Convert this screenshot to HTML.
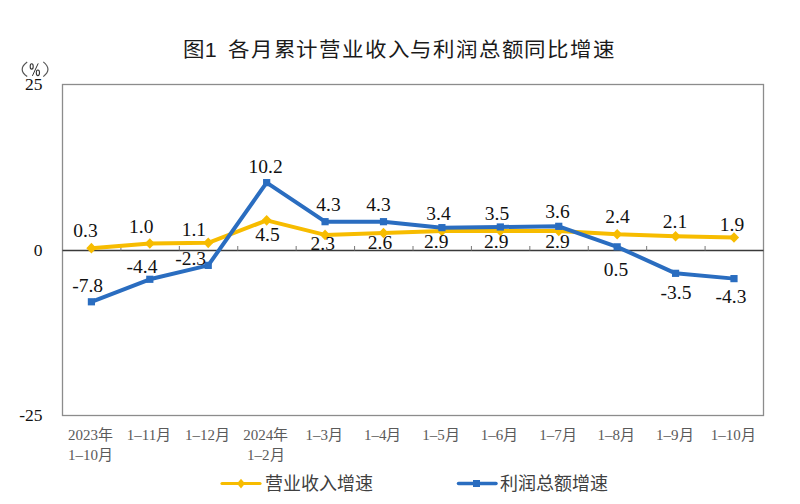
<!DOCTYPE html>
<html lang="zh-CN"><head><meta charset="utf-8"><style>
html,body{margin:0;padding:0;background:#fff;width:800px;height:504px;overflow:hidden}
svg{display:block}
.d{font-family:"Liberation Serif",serif;font-size:19.5px;fill:#111;text-anchor:middle}
.ya{font-family:"Liberation Serif",serif;font-size:17.5px;fill:#111;text-anchor:end}
.pc{font-family:"Liberation Serif",serif;font-size:15px;fill:#333;text-anchor:middle}
.xa{font-family:"Liberation Serif",serif;font-size:15px;fill:#5a5a5a;text-anchor:middle}
.ti{font-family:"Liberation Sans",sans-serif;font-size:21.5px;fill:#1a1a1a}
.lg{font-family:"Liberation Serif",serif;font-size:18px;fill:#404040}
</style></head><body>
<svg width="800" height="504" viewBox="0 0 800 504">
<rect x="62.5" y="84.5" width="701.0" height="331.0" fill="none" stroke="#8c8c8c" stroke-width="1.3"/>
<line x1="62.5" y1="250.5" x2="763.5" y2="250.5" stroke="#3a3a3a" stroke-width="1.5"/>
<line x1="120.92" y1="246.0" x2="120.92" y2="250.5" stroke="#777" stroke-width="1"/>
<line x1="179.33" y1="246.0" x2="179.33" y2="250.5" stroke="#777" stroke-width="1"/>
<line x1="237.75" y1="246.0" x2="237.75" y2="250.5" stroke="#777" stroke-width="1"/>
<line x1="296.17" y1="246.0" x2="296.17" y2="250.5" stroke="#777" stroke-width="1"/>
<line x1="354.58" y1="246.0" x2="354.58" y2="250.5" stroke="#777" stroke-width="1"/>
<line x1="413.00" y1="246.0" x2="413.00" y2="250.5" stroke="#777" stroke-width="1"/>
<line x1="471.42" y1="246.0" x2="471.42" y2="250.5" stroke="#777" stroke-width="1"/>
<line x1="529.83" y1="246.0" x2="529.83" y2="250.5" stroke="#777" stroke-width="1"/>
<line x1="588.25" y1="246.0" x2="588.25" y2="250.5" stroke="#777" stroke-width="1"/>
<line x1="646.67" y1="246.0" x2="646.67" y2="250.5" stroke="#777" stroke-width="1"/>
<line x1="705.08" y1="246.0" x2="705.08" y2="250.5" stroke="#777" stroke-width="1"/>
<polyline points="91.41,248.16 149.82,243.53 208.24,242.87 266.66,220.36 325.07,234.92 383.49,232.94 441.91,230.95 500.32,230.95 558.74,230.95 617.16,234.26 675.58,236.25 733.99,237.57" fill="none" stroke="#F7BC00" stroke-width="4" stroke-linejoin="round"/>
<path d="M91.41 242.86L96.51 248.16L91.41 253.46L86.31 248.16Z" fill="#F7BC00"/>
<path d="M149.82 238.23L154.92 243.53L149.82 248.83L144.72 243.53Z" fill="#F7BC00"/>
<path d="M208.24 237.57L213.34 242.87L208.24 248.17L203.14 242.87Z" fill="#F7BC00"/>
<path d="M266.66 215.06L271.76 220.36L266.66 225.66L261.56 220.36Z" fill="#F7BC00"/>
<path d="M325.07 229.62L330.18 234.92L325.07 240.22L319.97 234.92Z" fill="#F7BC00"/>
<path d="M383.49 227.64L388.59 232.94L383.49 238.24L378.39 232.94Z" fill="#F7BC00"/>
<path d="M441.91 225.65L447.01 230.95L441.91 236.25L436.81 230.95Z" fill="#F7BC00"/>
<path d="M500.32 225.65L505.43 230.95L500.32 236.25L495.22 230.95Z" fill="#F7BC00"/>
<path d="M558.74 225.65L563.84 230.95L558.74 236.25L553.64 230.95Z" fill="#F7BC00"/>
<path d="M617.16 228.96L622.26 234.26L617.16 239.56L612.06 234.26Z" fill="#F7BC00"/>
<path d="M675.58 230.95L680.68 236.25L675.58 241.55L670.48 236.25Z" fill="#F7BC00"/>
<path d="M733.99 232.27L739.09 237.57L733.99 242.87L728.89 237.57Z" fill="#F7BC00"/>
<polyline points="91.41,301.79 149.82,279.28 208.24,265.38 266.66,182.63 325.07,221.68 383.49,221.68 441.91,227.64 500.32,226.98 558.74,226.32 617.16,246.84 675.58,273.32 733.99,278.62" fill="none" stroke="#2A6DC0" stroke-width="4" stroke-linejoin="round"/>
<rect x="87.81" y="298.19" width="7.2" height="7.2" fill="#2A6DC0"/>
<rect x="146.22" y="275.68" width="7.2" height="7.2" fill="#2A6DC0"/>
<rect x="204.64" y="261.78" width="7.2" height="7.2" fill="#2A6DC0"/>
<rect x="263.06" y="179.03" width="7.2" height="7.2" fill="#2A6DC0"/>
<rect x="321.47" y="218.08" width="7.2" height="7.2" fill="#2A6DC0"/>
<rect x="379.89" y="218.08" width="7.2" height="7.2" fill="#2A6DC0"/>
<rect x="438.31" y="224.04" width="7.2" height="7.2" fill="#2A6DC0"/>
<rect x="496.72" y="223.38" width="7.2" height="7.2" fill="#2A6DC0"/>
<rect x="555.14" y="222.72" width="7.2" height="7.2" fill="#2A6DC0"/>
<rect x="613.56" y="243.24" width="7.2" height="7.2" fill="#2A6DC0"/>
<rect x="671.98" y="269.72" width="7.2" height="7.2" fill="#2A6DC0"/>
<rect x="730.39" y="275.02" width="7.2" height="7.2" fill="#2A6DC0"/>
<text x="85.5" y="237" class="d">0.3</text>
<text x="141.3" y="233" class="d">1.0</text>
<text x="193.9" y="235.6" class="d">1.1</text>
<text x="267.5" y="241" class="d">4.5</text>
<text x="322.8" y="250" class="d">2.3</text>
<text x="380" y="249" class="d">2.6</text>
<text x="436.25" y="248" class="d">2.9</text>
<text x="496.25" y="248" class="d">2.9</text>
<text x="557.5" y="248" class="d">2.9</text>
<text x="617.5" y="223" class="d">2.4</text>
<text x="675" y="228" class="d">2.1</text>
<text x="732" y="231" class="d">1.9</text>
<text x="87.6" y="292.3" class="d">-7.8</text>
<text x="142" y="273" class="d">-4.4</text>
<text x="190.6" y="264.7" class="d">-2.3</text>
<text x="265.6" y="172.5" class="d">10.2</text>
<text x="328.5" y="210.5" class="d">4.3</text>
<text x="378.5" y="210.5" class="d">4.3</text>
<text x="438.5" y="220" class="d">3.4</text>
<text x="497" y="220" class="d">3.5</text>
<text x="557.5" y="217.5" class="d">3.6</text>
<text x="616" y="276" class="d">0.5</text>
<text x="676" y="298.75" class="d">-3.5</text>
<text x="731" y="302.5" class="d">-4.3</text>
<text x="42.5" y="90" class="ya">25</text>
<text x="42.5" y="255.6" class="ya">0</text>
<text x="42.5" y="421" class="ya">-25</text>
<path d="M27.2 62.1Q17.2 69.4 27.2 76.6M43.3 61.9Q52.6 69.4 43.3 76.6" fill="none" stroke="#555" stroke-width="1.2"/>
<ellipse cx="31.7" cy="66.4" rx="1.5" ry="2.7" fill="none" stroke="#333" stroke-width="1.1"/>
<ellipse cx="37.9" cy="72.8" rx="1.6" ry="2.8" fill="none" stroke="#333" stroke-width="1.1"/>
<path d="M38.2 63.4L32.4 75.9" stroke="#333" stroke-width="1"/>
<text x="90.61" y="439.7" class="xa">2023年</text>
<text x="90.61" y="459.5" class="xa">1–10月</text>
<text x="149.02" y="439.7" class="xa">1–11月</text>
<text x="207.44" y="439.7" class="xa">1–12月</text>
<text x="265.86" y="439.7" class="xa">2024年</text>
<text x="265.86" y="459.5" class="xa">1–2月</text>
<text x="324.27" y="439.7" class="xa">1–3月</text>
<text x="382.69" y="439.7" class="xa">1–4月</text>
<text x="441.11" y="439.7" class="xa">1–5月</text>
<text x="499.52" y="439.7" class="xa">1–6月</text>
<text x="557.94" y="439.7" class="xa">1–7月</text>
<text x="616.36" y="439.7" class="xa">1–8月</text>
<text x="674.78" y="439.7" class="xa">1–9月</text>
<text x="733.19" y="439.7" class="xa">1–10月</text>
<g transform="translate(0,56.5) scale(1,0.93)"><text x="183" y="0" class="ti">图1</text>
<text x="228" y="0" class="ti" style="letter-spacing:1.05px">各月累计营业收入与利润总额同比增速</text></g>
<line x1="222" y1="483.5" x2="260" y2="483.5" stroke="#F7BC00" stroke-width="3.2" stroke-linecap="round"/>
<path d="M241 478.8L245 483.6L241 488.6L237 483.6Z" fill="#F7BC00"/>
<text x="265" y="490" class="lg">营业收入增速</text>
<line x1="458.5" y1="483.5" x2="496" y2="483.5" stroke="#2A6DC0" stroke-width="3.5" stroke-linecap="round"/>
<rect x="473" y="480" width="7" height="7" fill="#2A6DC0"/>
<text x="500" y="490" class="lg">利润总额增速</text>
</svg>
</body></html>
